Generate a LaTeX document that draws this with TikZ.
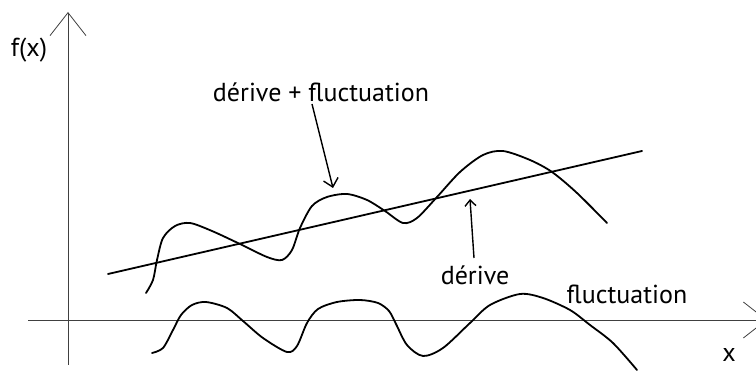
\documentclass[tikz,border=0pt]{standalone}
\usepackage{fontspec}
\setmainfont{PT Sans}
\usetikzlibrary{arrows.meta}

\begin{document}
\begin{tikzpicture}[
    x=1pt, y=-1pt,
    axis/.style={draw=black!75, line width=0.8pt},
    axistip/.style={axis, -{Straight Barb[length=23pt, width=36pt, line width=0.8pt]}},
    curve/.style={line width=1.8pt, line cap=round, line join=round},
    pointer/.style={line width=1.4pt, -{Straight Barb[length=8pt, width=15pt, line width=1.4pt]}},
    lbl/.style={font=\fontsize{26}{30}\selectfont, inner sep=0pt, anchor=base}
]
\useasboundingbox (0,0) rectangle (756,371);
% axes
\coordinate (origin) at (68,320);
\coordinate (ybot) at (68,365);
\coordinate (ytop) at (68,12);
\coordinate (xleft) at (28,320);
\coordinate (xright) at (767,320);
\draw[axistip] (ybot) -- (ytop);
\draw[axistip] (xleft) -- (xright);
\node[lbl, anchor=center] (fx) at (29,50) {f(x)};
\node[lbl] (xlbl) at (729,362) {x};
% derive (straight line)
\coordinate (drifta) at (108,274);
\coordinate (driftb) at (642,151);
\draw[curve] (drifta) -- (driftb);
% derive + fluctuation
\draw[curve] plot[smooth] coordinates {(146,293) (153,280) (157,260) (163,238) (175,226) (190,223)
    (212,231) (240,244) (267,257) (282,260) (292,250) (300,228) (312,206) (327,197) (347,194)
    (367,200) (385,211) (403,223) (417,218) (437,197) (460,172) (483,155) (503,151) (530,160)
    (552,172) (577,193) (607,223)};
% fluctuation
\draw[curve] plot[smooth] coordinates {(152,353) (163,348) (173,330) (181,315) (192,305) (206,302)
    (227,308) (243,321) (263,338) (287,352) (297,346) (307,323) (318,309) (337,302) (360,300)
    (378,303) (389,311) (396,324) (407,345) (423,356) (443,348) (470,323) (490,305) (520,294)
    (543,298) (570,310) (590,325) (613,343) (637,370)};
% labels and pointers
\node[lbl] (sumlbl) at (321,102) {dérive + fluctuation};
\node[lbl] (driftlbl) at (475,285) {dérive};
\node[lbl] (fluctlbl) at (627,304) {fluctuation};
\coordinate (sumtail) at (312,104);
\coordinate (sumtip) at (333,188);
\coordinate (drifttail) at (474,258);
\coordinate (drifttip) at (470,199);
\draw[pointer] (sumtail) -- (sumtip);
\draw[pointer, -{Straight Barb[length=6pt, width=11pt, line width=1.4pt]}] (drifttail) -- (drifttip);
\end{tikzpicture}
\end{document}
